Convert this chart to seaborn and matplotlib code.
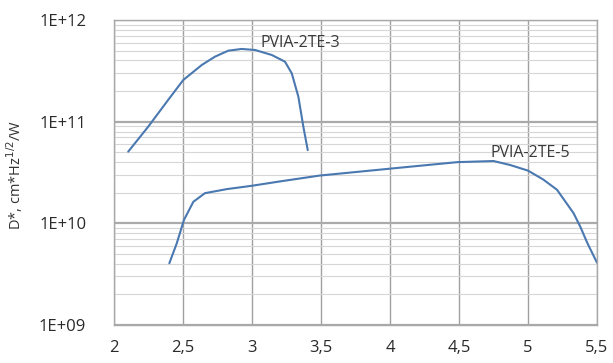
import numpy as np
import pandas as pd
import matplotlib
matplotlib.use("Agg")
import matplotlib.pyplot as plt
import seaborn as sns
from matplotlib.ticker import FixedLocator, NullFormatter

# Data
x_te3 = [2.103, 2.248, 2.393, 2.502, 2.636, 2.732, 2.828, 2.925, 3.022, 3.143, 3.239, 3.288, 3.336, 3.372, 3.404]
d_te3 = [5.07e10, 8.93e10, 1.64e11, 2.57e11, 3.61e11, 4.36e11, 4.99e11, 5.19e11, 5.07e11, 4.53e11, 3.89e11, 2.99e11, 1.76e11, 8.93e10, 5.25e10]

x_te5 = [2.401, 2.455, 2.507, 2.575, 2.659, 2.817, 2.998, 3.191, 3.49, 4.14, 4.49, 4.75, 4.87, 5.00, 5.11, 5.21, 5.33, 5.38, 5.43, 5.50]
d_te5 = [4.05e9, 6.37e9, 1.08e10, 1.63e10, 1.98e10, 2.17e10, 2.34e10, 2.57e10, 2.95e10, 3.6e10, 4.0e10, 4.1e10, 3.75e10, 3.3e10, 2.7e10, 2.14e10, 1.26e10, 9.2e9, 6.4e9, 4.1e9]

series_names = ["PVIA-2TE-3", "PVIA-2TE-5"]
label_x = [3.058, 4.725]
label_y = [5.94e11, 4.92e10]
x_ticks = [2, 2.5, 3, 3.5, 4, 4.5, 5, 5.5]
x_tick_labels = ["2", "2,5", "3", "3,5", "4", "4,5", "5", "5,5"]
y_ticks = [1e9, 1e10, 1e11, 1e12]
y_tick_labels = ["1E+09", "1E+10", "1E+11", "1E+12"]
y_label = "D*, cm*Hz$^{1/2}$/W"

df = pd.concat([
    pd.DataFrame({"x": x_te3, "D": d_te3, "s": series_names[0]}),
    pd.DataFrame({"x": x_te5, "D": d_te5, "s": series_names[1]}),
])

sns.set_theme(style="white")
plt.rcParams['font.family'] = ['Open Sans', 'DejaVu Sans']

fig = plt.figure(figsize=(6.13, 3.63), dpi=100)
ax = fig.add_axes([114/613, 1 - 325/363, (597-114)/613, (325-20)/363])

line_color = "#4a78b0"
sns.lineplot(data=df, x="x", y="D", hue="s", sort=False, estimator=None,
             palette=[line_color, line_color], legend=False, lw=1.5, ax=ax)

ax.set_yscale("log")
ax.set_xlim(2, 5.5)
ax.set_ylim(1e9, 1e12)

ax.xaxis.set_major_locator(FixedLocator(x_ticks))
ax.set_xticklabels(x_tick_labels)
ax.yaxis.set_major_locator(FixedLocator(y_ticks))
ax.set_yticklabels(y_tick_labels)
minor_y = [k * 10.0 ** e for e in (9, 10, 11) for k in range(2, 10)]
ax.yaxis.set_minor_locator(FixedLocator(minor_y))
ax.yaxis.set_minor_formatter(NullFormatter())

ax.grid(True, which="minor", axis="y", color="#d6d6d6", lw=0.8)
ax.grid(True, which="major", axis="y", color="#aaaaaa", lw=1.6)
ax.grid(True, which="major", axis="x", color="#a0a0a0", lw=1.0)
ax.set_axisbelow(True)

for sp in ax.spines.values():
    sp.set_color("#a8a8a8")
    sp.set_linewidth(1.0)

ax.tick_params(axis="both", which="both", length=0, labelsize=12, colors="#2a2a2a")
ax.tick_params(axis="x", pad=11)
ax.tick_params(axis="y", pad=20)

ax.set_xlabel("")
ax.set_ylabel(y_label, fontsize=10.5, color="#333333")
ax.yaxis.set_label_coords(-0.184, 0.49)

for name, lx, ly in zip(series_names, label_x, label_y):
    ax.text(lx, ly, name, fontsize=11.5, color="#3a3a3a", va="center", ha="left")

fig.savefig("out.png", dpi=100)
